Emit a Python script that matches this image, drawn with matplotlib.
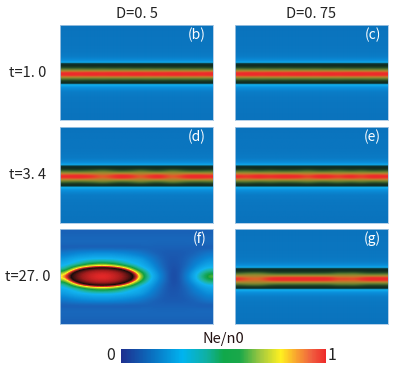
import numpy as np
import matplotlib
matplotlib.use("Agg")
from matplotlib import pyplot as plt
from matplotlib.cm import ScalarMappable
from matplotlib.colors import LinearSegmentedColormap

plt.rcParams['font.family'] = ['Noto Sans CJK JP', 'DejaVu Sans']

W, H = 400, 373

column_titles = ["D=0. 5", "D=0. 75"]
row_titles = ["t=1. 0", "t=3. 4", "t=27. 0"]
panel_tags = ["(b)", "(c)", "(d)", "(e)", "(f)", "(g)"]

# one value per pixel row, top of panel to bottom
band_flat = [.02, .02, .02, .02, .02, .02, .03, .03, .03, .03, .03, .03, .04, .04, .04, .04, .04, .04, .05, .05,
             .05, .05, .06, .06, .06, .07, .07, .08, .09, .10, .11, .13, .15, .17, .20, .24, .28, .33,
             .40, .41, .42, .45, .48, .55, .62, .72, .82, .95, 1.0, 1.0, .95, .82, .72, .62, .55, .48, .45, .42, .40,
             .35, .31, .27, .24, .21, .18, .16, .14, .12, .11, .10, .09, .08, .07, .07, .06, .06, .05, .05,
             .05, .04, .04, .04, .04, .03, .03, .03, .03, .03, .02, .02, .02, .02, .02, .02, .02]
# same rows where the core washes out to olive
band_wavy = [.02, .02, .02, .02, .02, .02, .03, .03, .03, .03, .03, .03, .04, .04, .04, .04, .04, .04, .05, .05,
             .05, .05, .06, .06, .06, .07, .07, .08, .09, .10, .11, .13, .15, .17, .20, .24, .28, .33,
             .40, .41, .44, .48, .55, .62, .68, .72, .76, .80, .84, .84, .80, .76, .72, .68, .62, .55, .48, .44, .40,
             .35, .31, .27, .24, .21, .18, .16, .14, .12, .11, .10, .09, .08, .07, .07, .06, .06, .05, .05,
             .05, .04, .04, .04, .04, .03, .03, .03, .03, .03, .02, .02, .02, .02, .02, .02, .02]

# how far each column (8 px apart) leans to band_wavy
wash_b = [.2, .1, .2, .1, .1, .2, .1, .1, .2, .1, .1, .2, .1, .2, .1, .1, .2, .1, .2, .1]
wash_c = [.2, .1, .1, .2, .1, .1, .2, .1, .1, .1, .2, .1, .1, .2, .1, .1, .1, .2, .1, .2]
wash_d = [.3, .2, .1, .3, .5, 1., .6, .1, .1, .4, 1., .5, .1, .3, 1., .7, .2, .1, .1, .3]
wash_e = [.3, .5, .2, .1, .4, .2, .1, .2, .3, .7, .3, .1, .3, .6, .3, .2, .6, .2, .1, .3]
wash_g = [.4, .8, 1., .9, .3, .1, .1, .1, .1, .1, .1, .1, .2, .7, .6, .8, .4, .1, .1, .2]

# panel (f), rows 4 px apart going out from the midline, columns 8 px apart
blob_half = [
    [.72, .82, .88, .94, .98, 1.0, .98, .94, .88, .82, .70, .50, .40, .28, .12, .14, .30, .42, .52, .64],
    [.62, .79, .86, .91, .95, .96, .95, .91, .86, .79, .62, .47, .38, .26, .13, .14, .28, .40, .48, .55],
    [.46, .60, .74, .80, .83, .84, .83, .80, .74, .60, .46, .42, .34, .22, .14, .15, .24, .34, .42, .45],
    [.42, .44, .48, .56, .60, .62, .60, .56, .48, .44, .42, .38, .30, .20, .15, .16, .21, .30, .36, .40],
    [.38, .42, .44, .45, .46, .46, .46, .45, .44, .42, .40, .34, .26, .19, .16, .17, .20, .27, .32, .36],
    [.32, .35, .37, .38, .39, .39, .39, .38, .37, .35, .33, .28, .23, .18, .17, .17, .19, .22, .27, .31],
    [.26, .29, .31, .32, .33, .33, .33, .32, .31, .29, .26, .22, .19, .18, .18, .18, .18, .20, .23, .26],
    [.18, .18, .18, .18, .18, .18, .18, .18, .18, .18, .19, .20, .20, .20, .20, .20, .20, .19, .18, .18],
    [.22, .22, .22, .22, .22, .22, .22, .22, .22, .22, .22, .22, .21, .21, .21, .21, .21, .22, .22, .22],
    [.22, .22, .22, .22, .22, .22, .22, .22, .22, .22, .22, .22, .22, .22, .22, .22, .22, .22, .22, .22],
    [.21, .21, .21, .21, .21, .21, .21, .21, .21, .21, .21, .21, .21, .21, .21, .21, .21, .21, .21, .21],
    [.20, .20, .20, .20, .20, .20, .20, .20, .20, .20, .20, .20, .20, .20, .20, .20, .20, .20, .20, .20],
]

band_cmap = LinearSegmentedColormap.from_list("band", [
    (0.0, "#0a72bc"), (0.12, "#0a7cc6"), (0.24, "#0a90dc"), (0.36, "#14b8f4"), (0.39, "#0e3a3a"),
    (0.42, "#10281e"), (0.5, "#234a28"), (0.6, "#5a7a30"), (0.72, "#a08a30"), (0.84, "#dc6a2a"),
    (0.95, "#ee2a2a"), (1.0, "#ee2a2a")])
blob_cmap = LinearSegmentedColormap.from_list("blob", [
    (0.0, "#1a3fa0"), (0.14, "#1c4fa8"), (0.22, "#1868bc"), (0.32, "#0a84d4"), (0.44, "#12b4f0"),
    (0.5, "#20b49a"), (0.58, "#10a040"), (0.64, "#90c030"), (0.69, "#fff020"), (0.73, "#ee3a2a"),
    (0.8, "#1a0c0c"), (0.9, "#a01c1c"), (1.0, "#f02a2a")])
bar_cmap = LinearSegmentedColormap.from_list("bar", [
    (0.0, "#1e2f8f"), (0.15, "#0a70c0"), (0.3, "#00b4f0"), (0.42, "#10b0a0"), (0.5, "#10a84a"),
    (0.58, "#1aa84a"), (0.68, "#a0c840"), (0.78, "#fff020"), (0.86, "#f8a030"), (0.93, "#f06040"),
    (1.0, "#ee2a2a")])


def panel_axes(fig, left, top, right, bottom):
    ax = fig.add_axes([left / W, 1 - bottom / H, (right - left) / W, (bottom - top) / H])
    ax.set_xticks([])
    ax.set_yticks([])
    for s in ax.spines.values():
        s.set_color("#a8c8e4")
        s.set_linewidth(0.6)
    return ax


def band_field(wash, shift=0):
    flat = np.roll(np.array(band_flat), shift)
    wavy = np.roll(np.array(band_wavy), shift)
    w = np.array(wash)
    return np.outer(flat, 1 - w) + np.outer(wavy, w)


fig = plt.figure(figsize=(W / 100, H / 100), dpi=100)

lefts = [60, 235]
rights = [213, 388]
tops = [25, 127, 229]
bottoms = [120, 223, 324]
fields = [band_field(wash_b), band_field(wash_c), band_field(wash_d),
          band_field(wash_e), None, band_field(wash_g, 1)]

for i, tag in enumerate(panel_tags):
    r, c = i // 2, i % 2
    ax = panel_axes(fig, lefts[c], tops[r], rights[c], bottoms[r])
    if fields[i] is None:
        half = np.array(blob_half)
        full = np.vstack([half[::-1], half[1:]])
        ax.imshow(full, cmap=blob_cmap, vmin=0, vmax=1, aspect="auto", interpolation="bicubic")
    else:
        ax.imshow(fields[i], cmap=band_cmap, vmin=0, vmax=1, aspect="auto", interpolation="bicubic")
    ax.text(0.955, 0.9, tag, transform=ax.transAxes, color="white", fontsize=10, ha="right", va="center")

for c, title in enumerate(column_titles):
    fig.text((lefts[c] + rights[c]) / 2 / W, 1 - 14 / H, title, fontsize=10.5, ha="center", va="center", color="#222222")

label_y = [73, 175, 277]
for y, label in zip(label_y, row_titles):
    fig.text(28 / W, 1 - y / H, label, fontsize=10.5, ha="center", va="center", color="#222222")

cax = fig.add_axes([121 / W, 1 - 363 / H, 205 / W, 14 / H])
cb = fig.colorbar(ScalarMappable(cmap=bar_cmap), cax=cax, orientation="horizontal")
cb.set_ticks([])
cb.outline.set_visible(False)

fig.text(223 / W, 1 - 339 / H, "Ne/n0", fontsize=10.5, ha="center", va="center", color="#221111")
fig.text(111 / W, 1 - 356 / H, "0", fontsize=11.5, ha="center", va="center", color="#222222")
fig.text(332 / W, 1 - 356 / H, "1", fontsize=11.5, ha="center", va="center", color="#222222")

fig.savefig("out.png", dpi=100)
